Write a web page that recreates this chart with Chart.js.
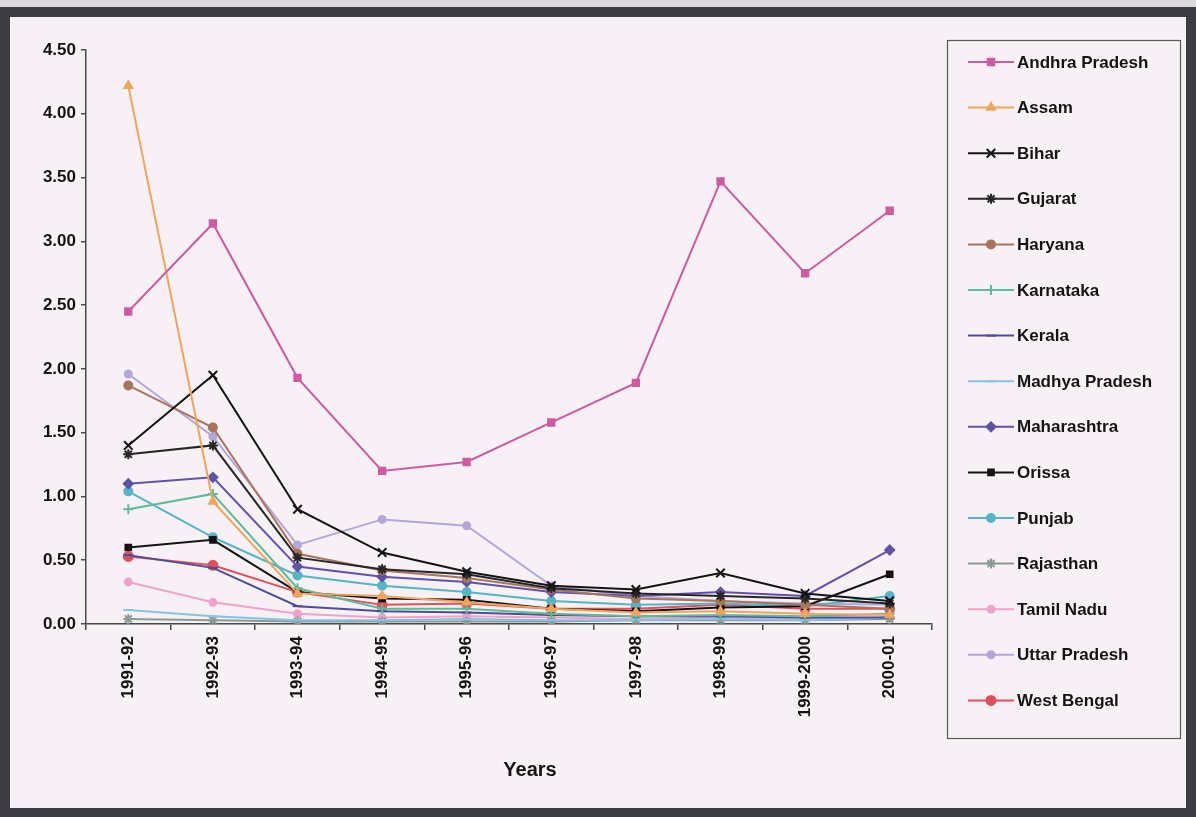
<!DOCTYPE html>
<html>
<head>
<meta charset="utf-8">
<title>State-wise trend, 1991-92 to 2000-01</title>
<script src="https://cdn.jsdelivr.net/npm/chart.js@4.4.0/dist/chart.umd.min.js"></script>
<style>
  html, body { margin: 0; padding: 0; }
  body { width: 1196px; height: 817px; background: #3d3c43; position: relative; overflow: hidden; }
  #topStrip { position: absolute; left: 0; top: 0; width: 1196px; height: 7px; background: #dedadf; }
  #panel { position: absolute; left: 10px; top: 17px; width: 1176px; height: 791px; background: #f7f0f5; }
  canvas { display: block; }
</style>
</head>
<body>
<div id="topStrip"></div>
<div id="panel"><canvas id="stateChart" width="1176" height="791"></canvas></div>
<script>
// years on the x axis
const years = ["1991-92", "1992-93", "1993-94", "1994-95", "1995-96", "1996-97", "1997-98", "1998-99", "1999-2000", "2000-01"];

// one array per state
const andhraPradesh = [2.45, 3.14, 1.93, 1.20, 1.27, 1.58, 1.89, 3.47, 2.75, 3.24];
const assam = [4.22, 0.96, 0.24, 0.22, 0.17, 0.12, 0.09, 0.10, 0.08, 0.07];
const bihar = [1.40, 1.95, 0.90, 0.56, 0.41, 0.30, 0.27, 0.40, 0.24, 0.18];
const gujarat = [1.33, 1.40, 0.52, 0.43, 0.39, 0.28, 0.24, 0.22, 0.20, 0.16];
const haryana = [1.87, 1.54, 0.55, 0.42, 0.36, 0.27, 0.20, 0.18, 0.15, 0.12];
const karnataka = [0.90, 1.02, 0.28, 0.12, 0.12, 0.08, 0.06, 0.07, 0.06, 0.08];
const kerala = [0.54, 0.44, 0.14, 0.10, 0.09, 0.07, 0.06, 0.06, 0.05, 0.05];
const madhyaPradesh = [0.11, 0.06, 0.03, 0.03, 0.04, 0.03, 0.03, 0.04, 0.03, 0.05];
const maharashtra = [1.10, 1.15, 0.45, 0.37, 0.33, 0.25, 0.22, 0.25, 0.22, 0.58];
const orissa = [0.60, 0.66, 0.25, 0.20, 0.19, 0.12, 0.10, 0.13, 0.14, 0.39];
const punjab = [1.04, 0.68, 0.38, 0.30, 0.25, 0.18, 0.15, 0.16, 0.14, 0.22];
const rajasthan = [0.04, 0.03, 0.02, 0.02, 0.02, 0.02, 0.03, 0.03, 0.03, 0.04];
const tamilNadu = [0.33, 0.17, 0.08, 0.05, 0.06, 0.05, 0.04, 0.05, 0.04, 0.05];
const uttarPradesh = [1.96, 1.47, 0.62, 0.82, 0.77, 0.30, 0.22, 0.18, 0.16, 0.15];
const westBengal = [0.53, 0.46, 0.25, 0.15, 0.16, 0.12, 0.12, 0.15, 0.12, 0.12];

const yTicks = [0, 0.5, 1, 1.5, 2, 2.5, 3, 3.5, 4, 4.5];

function series(label, data, color, style, radius) {
  return {
    label: label,
    data: data,
    borderColor: color,
    backgroundColor: color,
    borderWidth: 2,
    pointStyle: style,
    pointRadius: radius,
    pointBorderWidth: 2,
    tension: 0,
  };
}

const datasets = [
  series("Andhra Pradesh", andhraPradesh, "#d05aa2", "rect", 4.5),
  series("Assam", assam, "#f2a45a", "triangle", 4.5),
  series("Bihar", bihar, "#141414", "crossRot", 6),
  series("Gujarat", gujarat, "#262626", "star", 5),
  series("Haryana", haryana, "#a8745c", "circle", 4),
  series("Karnataka", karnataka, "#5cbc98", "cross", 5),
  series("Kerala", kerala, "#4c4c9c", "line", 5),
  series("Madhya Pradesh", madhyaPradesh, "#86c2e6", "line", 5),
  series("Maharashtra", maharashtra, "#5f52aa", "rectRot", 4.5),
  series("Orissa", orissa, "#141414", "rect", 4),
  series("Punjab", punjab, "#55b4c6", "circle", 4),
  series("Rajasthan", rajasthan, "#8c9a94", "star", 5),
  series("Tamil Nadu", tamilNadu, "#f2a2ca", "circle", 3.5),
  series("Uttar Pradesh", uttarPradesh, "#b3a6dc", "circle", 3.5),
  series("West Bengal", westBengal, "#e0505c", "circle", 4.5),
];

const fontFamily = "'Liberation Sans', Arial, sans-serif";

// framed legend on the right plus the "Years" caption under the axis
const sideLegend = {
  id: "sideLegend",
  afterDraw(chart) {
    const ctx = chart.ctx;
    const box = { left: 937, top: 23, right: 1170, bottom: 721 };
    ctx.save();
    ctx.strokeStyle = "#5a5a5a";
    ctx.lineWidth = 1.2;
    ctx.strokeRect(box.left + 0.5, box.top + 0.5, box.right - box.left, box.bottom - box.top);

    ctx.font = "bold 17px " + fontFamily;
    ctx.textBaseline = "middle";
    ctx.textAlign = "left";
    chart.data.datasets.forEach((ds, i) => {
      const y = 45 + i * 45.6;
      ctx.strokeStyle = ds.borderColor;
      ctx.lineWidth = 2;
      ctx.beginPath();
      ctx.moveTo(958, y);
      ctx.lineTo(1004, y);
      ctx.stroke();
      if (Chart.helpers && Chart.helpers.drawPoint) {
        ctx.fillStyle = ds.backgroundColor;
        Chart.helpers.drawPoint(ctx, {
          pointStyle: ds.pointStyle,
          radius: ds.pointRadius,
          rotation: 0,
          borderWidth: ds.pointBorderWidth,
        }, 981, y);
      }
      ctx.fillStyle = "#141414";
      ctx.fillText(ds.label, 1007, y + 1);
    });

    ctx.font = "bold 20px " + fontFamily;
    ctx.textAlign = "center";
    ctx.fillStyle = "#141414";
    ctx.fillText("Years", 520, 753);
    ctx.restore();
  },
};

const ctx = document.getElementById("stateChart").getContext("2d");
const stateChart = new Chart(ctx, {
  type: "line",
  data: {
    labels: years,
    datasets: datasets,
  },
  options: {
    responsive: false,
    animation: false,
    devicePixelRatio: 1,
    layout: { padding: { left: 0, top: 33, right: 254, bottom: 0 } },
    plugins: {
      legend: { display: false },
      tooltip: { enabled: false },
    },
    scales: {
      x: {
        offset: true,
        grid: {
          offset: true,
          drawOnChartArea: false,
          drawTicks: true,
          tickLength: 6,
          color: "#4a4a4a",
          lineWidth: 1.5,
        },
        border: { display: true, color: "#4a4a4a", width: 1.5 },
        ticks: {
          minRotation: 90,
          maxRotation: 90,
          autoSkip: false,
          padding: 6,
          color: "#141414",
          font: { family: fontFamily, size: 17, weight: "bold" },
        },
        afterFit: (axis) => { axis.height = 184; },
      },
      y: {
        min: 0,
        max: 4.5,
        afterBuildTicks: (axis) => { axis.ticks = yTicks.map(v => ({ value: v })); },
        grid: {
          drawOnChartArea: false,
          drawTicks: true,
          tickLength: 5,
          color: "#4a4a4a",
          lineWidth: 1.5,
        },
        border: { display: true, color: "#4a4a4a", width: 1.5 },
        ticks: {
          padding: 5,
          color: "#141414",
          font: { family: fontFamily, size: 17, weight: "bold" },
          callback: (v) => Number(v).toFixed(2),
        },
        afterFit: (axis) => { axis.width = 76; },
      },
    },
  },
  plugins: [sideLegend],
});
</script>
</body>
</html>
